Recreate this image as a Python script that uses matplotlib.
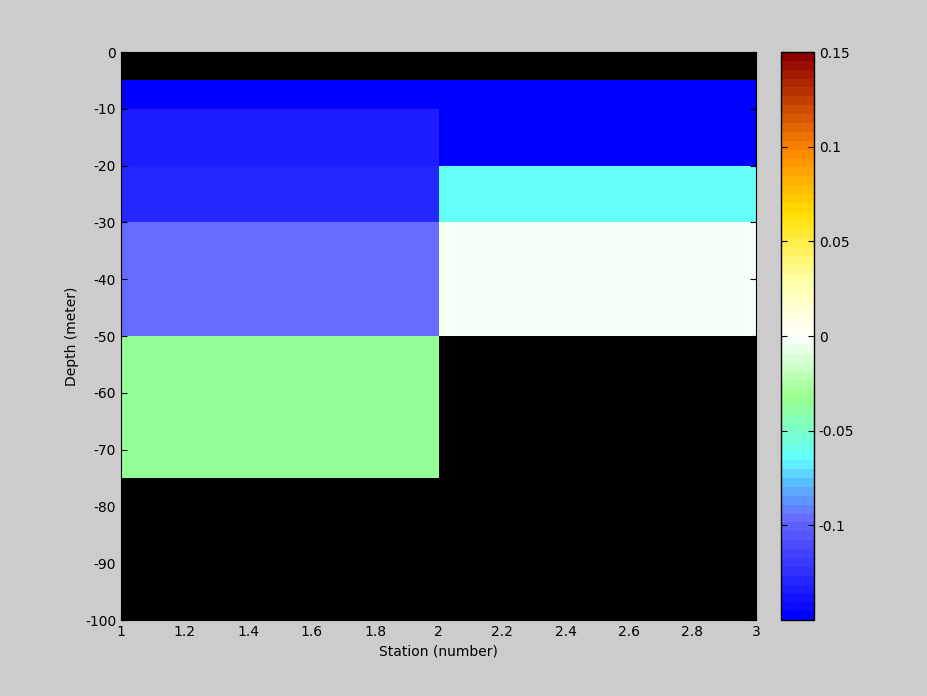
import numpy as np
import matplotlib
matplotlib.use("Agg")
import matplotlib.pyplot as plt
from matplotlib.colors import LinearSegmentedColormap, Normalize

# station edges and depth edges of the cells
stations = [1, 2, 3]
depths = [0, -5, -10, -20, -30, -50, -75, -100]

# cell values, top to bottom (nan = no data)
station1 = [np.nan, -0.149, -0.134, -0.129, -0.098, -0.035, np.nan]
station2 = [np.nan, -0.149, -0.149, -0.064, -0.002, np.nan, np.nan]

cb_ticks = [-0.1, -0.05, 0, 0.05, 0.1, 0.15]

anchors = [
    (0.00, (0.0, 0.0, 1.0)),
    (0.17, (0.4, 0.4, 1.0)),
    (0.24, (0.35, 0.75, 1.0)),
    (0.28, (0.38, 1.0, 1.0)),
    (0.39, (0.6, 1.0, 0.55)),
    (0.49, (0.96, 1.0, 0.96)),
    (0.51, (1.0, 1.0, 0.96)),
    (0.60, (1.0, 1.0, 0.65)),
    (0.72, (1.0, 0.87, 0.0)),
    (0.83, (1.0, 0.53, 0.0)),
    (1.00, (0.55, 0.0, 0.0)),
]
cmap = LinearSegmentedColormap.from_list("ocean", anchors, N=64)
norm = Normalize(-0.15, 0.15)

plt.rcParams["font.family"] = ["DejaVu Sans"]
plt.rcParams["font.size"] = 10
plt.rcParams["axes.unicode_minus"] = False

fig = plt.figure(figsize=(9.28, 6.96), dpi=100, facecolor="#cccccc")
ax = fig.add_axes([121 / 928, 76 / 696, 635 / 928, 568 / 696])
ax.set_facecolor("black")

C = np.ma.masked_invalid(np.array([station1, station2]).T)
ax.pcolormesh(stations, depths, C, cmap=cmap, norm=norm)
ax.set_xlim(1, 3)
ax.set_ylim(-100, 0)
ax.set_xticks(np.arange(1, 3.01, 0.2))
ax.set_xticklabels(["1", "1.2", "1.4", "1.6", "1.8", "2", "2.2", "2.4", "2.6", "2.8", "3"])
ax.set_yticks(np.arange(-100, 1, 10))
ax.tick_params(direction="in", length=4, top=True, right=True)
ax.set_xlabel("Station (number)")
ax.set_ylabel("Depth (meter)")

cax = fig.add_axes([781 / 928, 76 / 696, 33 / 928, 568 / 696])
sm = plt.cm.ScalarMappable(cmap=cmap, norm=norm)
cb = fig.colorbar(sm, cax=cax, ticks=cb_ticks)
cb.ax.set_yticklabels(["-0.1", "-0.05", "0", "0.05", "0.1", "0.15"])
cb.ax.minorticks_off()
cb.ax.tick_params(direction="in", length=4, left=True, right=True)
cb.outline.set_linewidth(1)

fig.savefig("out.png", dpi=100, facecolor=fig.get_facecolor())
